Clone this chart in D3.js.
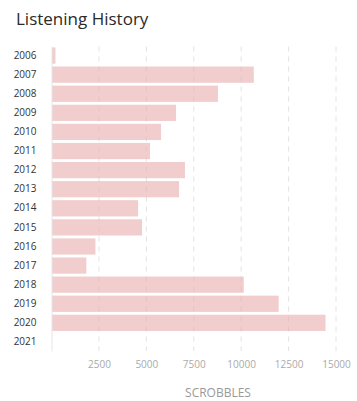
<!DOCTYPE html>
<html>
<head>
<meta charset="utf-8">
<script src="https://cdn.jsdelivr.net/npm/d3@7"></script>
<style>
body { margin: 0; background: #fff; }
svg text { font-family: "Open Sans", sans-serif; }
</style>
</head>
<body>
<svg id="chart" width="357" height="401"></svg>
<script>
const years = ["2006","2007","2008","2009","2010","2011","2012","2013","2014","2015","2016","2017","2018","2019","2020","2021"];
const scrobbles = [180, 10640, 8750, 6540, 5750, 5170, 7010, 6700, 4540, 4750, 2290, 1810, 10110, 11950, 14420, 0];
const xTicks = [2500, 5000, 7500, 10000, 12500, 15000];

const svg = d3.select("#chart");
const x = d3.scaleLinear().domain([0, 15000]).range([51.5, 336]);
const y = d3.scaleBand().domain(years).range([46.5, 351]).paddingInner(0.15).paddingOuter(0.05);

svg.append("text").attr("x", 16).attr("y", 25)
  .attr("font-size", 17).attr("fill", "#2a2a2a").text("Listening History");

// grid
svg.append("g").selectAll("line").data(xTicks).join("line")
  .attr("x1", d => x(d)).attr("x2", d => x(d))
  .attr("y1", 46.5).attr("y2", 351)
  .attr("stroke", "#e2e2e2").attr("stroke-width", 1).attr("stroke-dasharray", "5,5");

// bars
svg.append("g").selectAll("rect").data(years).join("rect")
  .attr("x", x(0) + 0.5)
  .attr("y", d => y(d))
  .attr("width", (d, i) => Math.max(0, x(scrobbles[i]) - x(0)))
  .attr("height", y.bandwidth())
  .attr("fill", "#e8aeae").attr("fill-opacity", 0.62);

// y axis
const ya = svg.append("g").attr("transform", `translate(${x(0)},0)`)
  .call(d3.axisLeft(y).tickSize(0).tickPadding(15));
ya.select(".domain").attr("stroke", "#e6e6e6");
ya.selectAll("text").attr("font-size", 10).attr("fill", "#333").attr("font-family", "Roboto, sans-serif");

// x axis
const xa = svg.append("g").attr("transform", "translate(0,351)")
  .call(d3.axisBottom(x).tickValues(xTicks).tickFormat(d3.format("d")).tickSize(0).tickPadding(10));
xa.select(".domain").remove();
xa.selectAll("text").attr("font-size", 10).attr("fill", "#aaa").attr("font-family", "Roboto, sans-serif");

svg.append("text").attr("x", 218).attr("y", 397).attr("text-anchor", "middle")
  .attr("font-size", 12).attr("fill", "#999").text("SCROBBLES");
</script>
</body>
</html>
